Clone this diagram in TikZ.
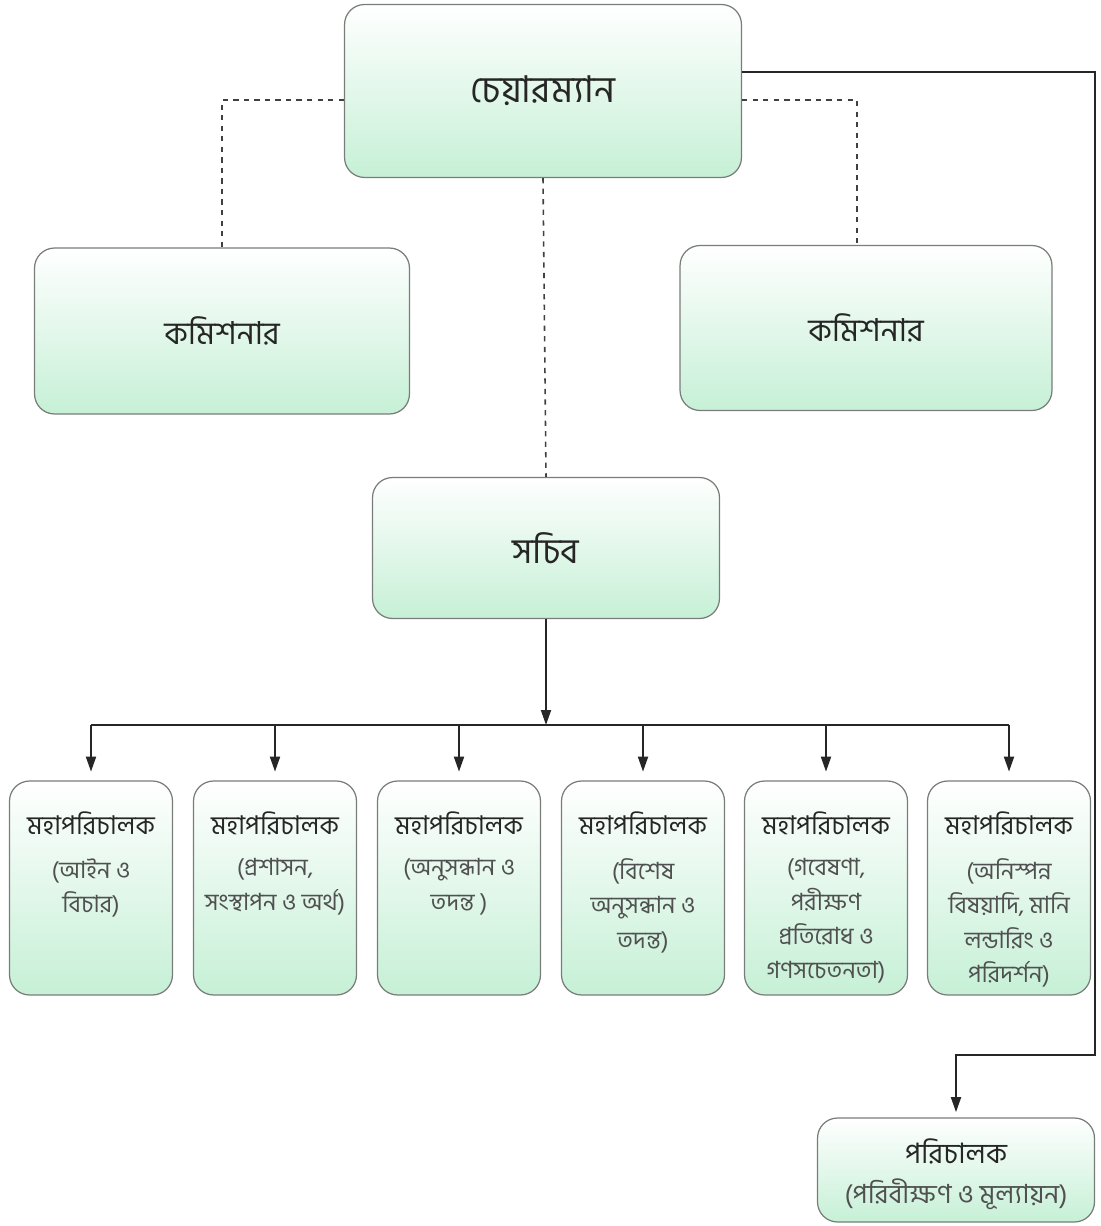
\documentclass[tikz,border=0pt]{standalone}
\usepackage{fontspec}
\newfontfamily\bn[Script=Bengali]{Hind Siliguri}
\usetikzlibrary{arrows.meta,calc,positioning}
\definecolor{mint}{RGB}{198,240,214}
\definecolor{boxline}{RGB}{120,125,122}
\definecolor{subtxt}{RGB}{80,80,80}
\tikzset{
  box/.style={draw=boxline, line width=0.7pt, rounded corners=0.4cm,
    top color=white, middle color=white, bottom color=mint, inner sep=0pt},
  bigtxt/.style={font=\bn\fontsize{19}{22}\selectfont, text=black!85},
  btitle/.style={font=\bn\fontsize{14.7}{17}\selectfont, text=black!85, inner sep=0pt},
  bsub/.style={font=\bn\fontsize{13.5}{19.5}\selectfont, text=subtxt, align=center, inner sep=0pt},
  dline/.style={draw=black!75, line width=0.9pt, dash pattern=on 3pt off 3pt},
  sline/.style={draw=black!85, line width=1.1pt},
  arr/.style={sline, -{Triangle[length=0.3cm,width=0.2cm]}},
}
\begin{document}
\begin{tikzpicture}[x=0.02cm,y=-0.02cm]
\useasboundingbox (0,0) rectangle (1100,1226);
% top level
\node[box, bigtxt, font=\bn\fontsize{21}{24}\selectfont, minimum width=7.94cm, minimum height=3.46cm] (ch) at (543,91) {চেয়ারম্যান};
\node[box, bigtxt, font=\bn\fontsize{18}{22}\selectfont, minimum width=7.5cm, minimum height=3.32cm] (c1) at (222,331) {কমিশনার};
\node[box, bigtxt, font=\bn\fontsize{18}{22}\selectfont, minimum width=7.44cm, minimum height=3.3cm] (c2) at (866,328) {কমিশনার};
\node[box, bigtxt, font=\bn\fontsize{20}{22}\selectfont, minimum width=6.94cm, minimum height=2.82cm] (se) at (546,548) {সচিব};
% bottom boxes
\foreach \i/\x in {1/91,2/275,3/459,4/643,5/826,6/1009}{
  \node[box, minimum width=3.26cm, minimum height=4.28cm] (b\i) at (\x,888) {};
  \node[btitle, anchor=center] (t\i) at ($(b\i.north)+(0,43)$) {মহাপরিচালক};
}
\node[bsub, anchor=north] (s1) at ($(b1.north)+(0,78)$) {(আইন ও\\বিচার)};
\node[bsub, anchor=north] (s2) at ($(b2.north)+(0,78)$) {(প্রশাসন,\\সংস্থাপন ও অর্থ)};
\node[bsub, anchor=north] (s3) at ($(b3.north)+(0,78)$) {(অনুসন্ধান ও\\তদন্ত )};
\node[bsub, anchor=north] (s4) at ($(b4.north)+(0,78)$) {(বিশেষ\\অনুসন্ধান ও\\তদন্ত)};
\node[bsub, anchor=north] (s5) at ($(b5.north)+(0,78)$) {(গবেষণা,\\পরীক্ষণ\\প্রতিরোধ ও\\গণসচেতনতা)};
\node[bsub, anchor=north] (s6) at ($(b6.north)+(0,78)$) {(অনিস্পন্ন\\বিষয়াদি, মানি\\লন্ডারিং ও\\পরিদর্শন)};
% director
\node[box, minimum width=5.54cm, minimum height=2.08cm] (dr) at (956,1170) {};
\node[btitle, font=\bn\fontsize{16}{18}\selectfont] (dt) at ($(dr.north)+(0,34)$) {পরিচালক};
\node[bsub, font=\bn\fontsize{15}{18}\selectfont] (ds) at ($(dr.north)+(0,77)$) {(পরিবীক্ষণ ও মূল্যায়ন)};
% dashed connectors
\draw[dline] ($(ch.west)+(0,9)$) -| (c1.north);
\draw[dline] ($(ch.east)+(0,9)$) -| ($(c2.north)+(-9,0)$);
\draw[dline] (ch.south) -- (se.north);
% secretary to directors general
\coordinate (bus) at (546,725);
\draw[arr] (se.south) -- (bus);
\draw[sline] (b1.north |- bus) -- (b6.north |- bus);
\foreach \i in {1,...,6}{
  \draw[arr, shorten >=5pt] (b\i.north |- bus) -- (b\i.north);
}
% chairman to director
\coordinate (rc) at (1095,1055);
\draw[arr, shorten >=3pt] ($(ch.east)+(0,-19)$) -| (rc) -| (dr.north);
\end{tikzpicture}
\end{document}
